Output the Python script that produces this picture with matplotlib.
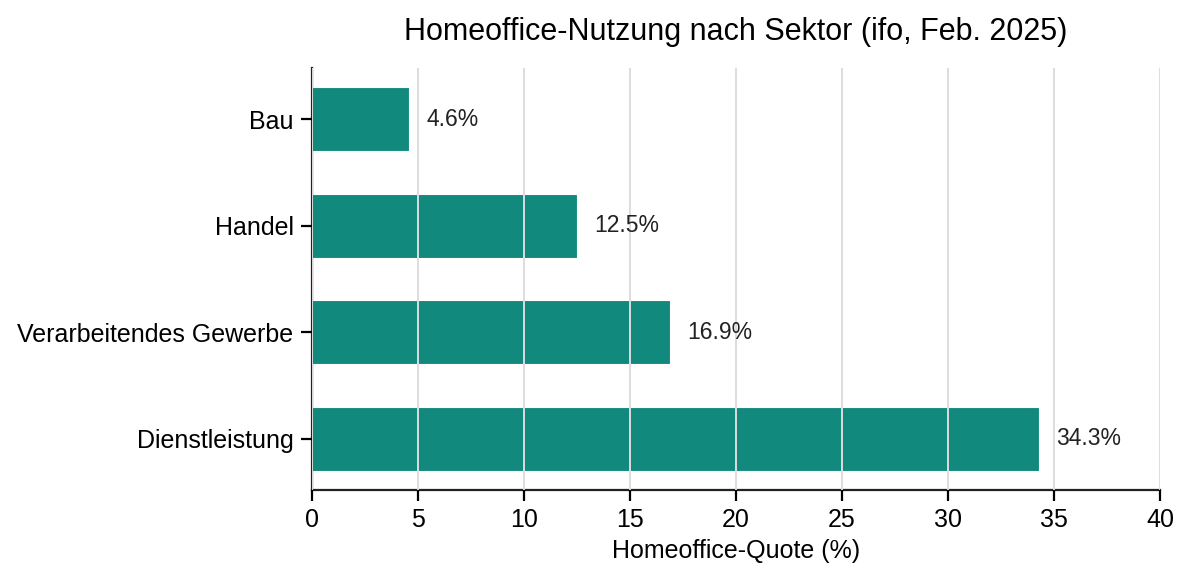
import matplotlib
matplotlib.use("Agg")
import matplotlib.pyplot as plt
import numpy as np

plt.rcParams["font.family"] = ["Liberation Sans", "DejaVu Sans"]

# Data (ifo, Feb. 2025)
sectors = ["Dienstleistung", "Verarbeitendes Gewerbe", "Handel", "Bau"]
shares = [34.3, 16.9, 12.5, 4.6]

BAR_COLOR = "#11897c"

fig, ax = plt.subplots(figsize=(11.85, 5.63), dpi=100)
fig.subplots_adjust(left=0.263, right=0.979, top=0.879, bottom=0.13)

y = np.arange(len(sectors))
bars = ax.barh(y, shares, height=0.6, color=BAR_COLOR, edgecolor="white", linewidth=0.8)

ax.set_axisbelow(False)
ax.grid(axis="x", color="#dddddd", lw=1.4)
ax.grid(axis="y", visible=False)

for b, v in zip(bars, shares):
    ax.text(v + 0.8, b.get_y() + b.get_height() / 2, f"{v:.1f}%",
            va="center", ha="left", fontsize=16.5, color="#222222")

ax.set_yticks(y)
ax.set_yticklabels(sectors, fontsize=18)
ax.set_xlim(0, 40)
ax.set_xticks(np.arange(0, 41, 5))
ax.tick_params(axis="x", labelsize=18, length=8, width=1.6, pad=5)
ax.tick_params(axis="y", length=8, width=1.6, pad=5)
ax.set_xlabel("Homeoffice-Quote (%)", fontsize=18, labelpad=5)
ax.set_title("Homeoffice-Nutzung nach Sektor (ifo, Feb. 2025)", fontsize=22, pad=20)

for s in ["top", "right"]:
    ax.spines[s].set_visible(False)
for s in ["left", "bottom"]:
    ax.spines[s].set_linewidth(1.6)
    ax.spines[s].set_color("#222222")

fig.savefig("out.png", dpi=100)
